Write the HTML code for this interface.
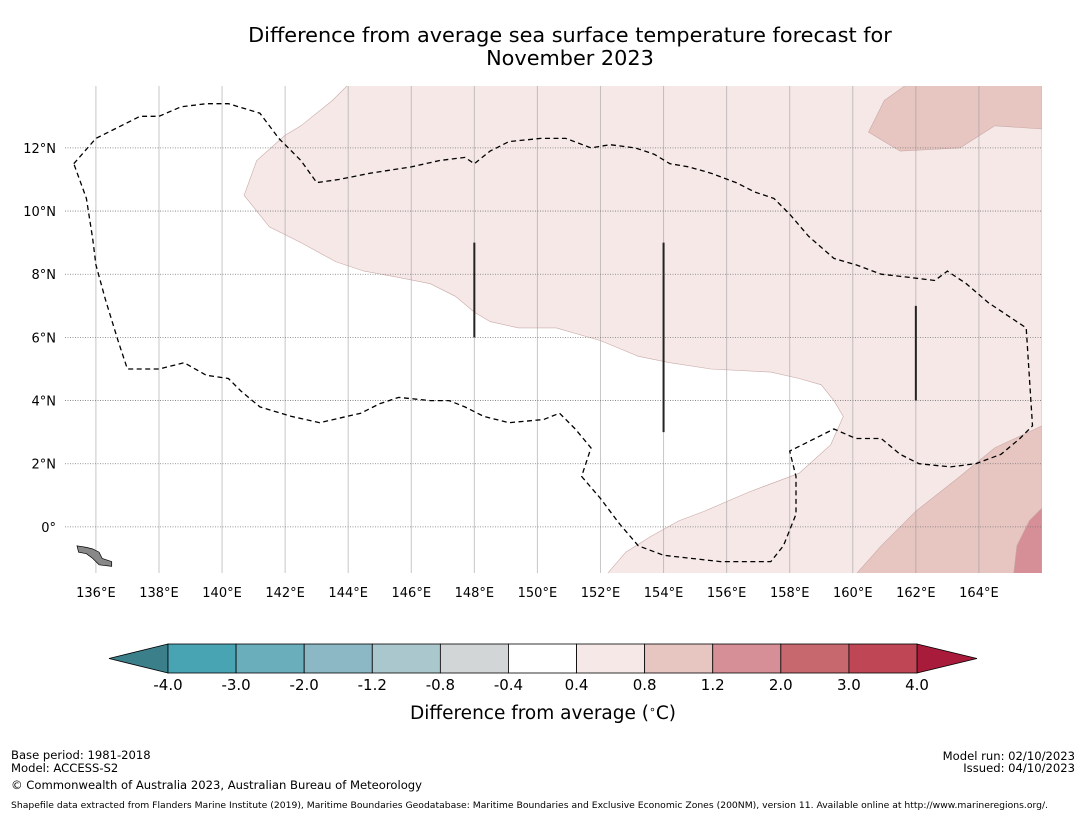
<!DOCTYPE html>
<html><head><meta charset="utf-8"><style>
body{margin:0;background:#fff;}
svg text{font-family:"DejaVu Sans","Liberation Sans",sans-serif;}
</style></head><body>
<svg id="c" width="1085" height="816" viewBox="0 0 1085 816" xmlns="http://www.w3.org/2000/svg">
<text x="570" y="42" font-size="20.8" text-anchor="middle">Difference from average sea surface temperature forecast for</text>
<text x="570" y="65" font-size="20.8" text-anchor="middle">November 2023</text>
<g id="map"></g>
<g id="cbar"></g>
<text x="543" y="719" font-size="18.5" text-anchor="middle">Difference from average (<tspan baseline-shift="super" font-size="11">∘</tspan>C)</text>
<text x="11" y="759" font-size="11.6">Base period: 1981-2018</text>
<text x="11" y="772" font-size="11.6">Model: ACCESS-S2</text>
<text x="11" y="789" font-size="11.6">© Commonwealth of Australia 2023, Australian Bureau of Meteorology</text>
<text x="1075" y="760" font-size="11.6" text-anchor="end">Model run: 02/10/2023</text>
<text x="1075" y="772" font-size="11.6" text-anchor="end">Issued: 04/10/2023</text>
<text x="11" y="808" font-size="8.6" textLength="1037" lengthAdjust="spacingAndGlyphs">Shapefile data extracted from Flanders Marine Institute (2019), Maritime Boundaries Geodatabase: Maritime Boundaries and Exclusive Economic Zones (200NM), version 11. Available online at http://www.marineregions.org/.</text>
</svg>
<script>
const lonTicks=[136,138,140,142,144,146,148,150,152,154,156,158,160,162,164];
const latTicks=[0,2,4,6,8,10,12];
const cbBounds=[-4.0,-3.0,-2.0,-1.2,-0.8,-0.4,0.4,0.8,1.2,2.0,3.0,4.0];
const cbColors=["#48a3b3","#6aaebb","#8bb8c4","#a9c7cc","#d3d6d7","#ffffff","#f5e8e7","#e7c5c1","#d68f96","#c7686f","#bf4655"];
const regionLight=[[144.0,14],[143.5,13.5],[142.5,12.7],[142.0,12.4],[141.1,11.6],[140.7,10.5],[141.5,9.5],[142.5,9.0],[143.6,8.4],[144.5,8.1],[145.6,7.9],[146.6,7.7],[147.4,7.3],[148.0,6.8],[148.5,6.5],[149.4,6.3],[150.6,6.3],[152.0,5.9],[153.2,5.4],[154.2,5.2],[155.5,5.0],[157.4,4.9],[158.3,4.7],[159.0,4.5],[159.4,4.0],[159.7,3.5],[159.3,2.6],[158.3,1.7],[156.7,1.1],[155.3,0.5],[154.5,0.2],[153.6,-0.3],[152.8,-0.8],[152.2,-1.5],[166,-1.5],[166,14]];
const regionTopRight=[[161.7,14],[161.0,13.5],[160.5,12.5],[161.5,11.9],[163.4,12.0],[164.5,12.7],[166,12.6],[166,14]];
const regionLowRight=[[160.1,-1.5],[160.9,-0.6],[162.0,0.5],[163.4,1.6],[164.5,2.5],[166,3.2],[166,-1.5]];
const regionDark=[[166,0.6],[165.6,0.2],[165.2,-0.6],[165.1,-1.5],[166,-1.5]];
const eez=[[135.3,11.5],[136.0,12.3],[136.8,12.7],[137.4,13.0],[138.0,13.0],[138.7,13.3],[139.5,13.4],[140.2,13.4],[141.2,13.1],[141.8,12.3],[142.5,11.6],[143.0,10.9],[143.7,11.0],[144.7,11.2],[146.0,11.4],[146.9,11.6],[147.7,11.7],[148.0,11.5],[148.5,11.9],[149.1,12.2],[150.1,12.3],[150.9,12.3],[151.7,12.0],[152.3,12.1],[153.1,12.0],[153.7,11.8],[154.2,11.5],[154.8,11.4],[155.5,11.2],[156.3,10.9],[156.9,10.6],[157.5,10.4],[158.0,9.9],[158.6,9.2],[159.4,8.5],[160.1,8.3],[160.9,8.0],[161.8,7.9],[162.6,7.8],[163.0,8.1],[163.6,7.7],[164.3,7.1],[165.5,6.3],[165.7,3.2],[165.3,2.8],[164.7,2.3],[163.9,2.0],[163.1,1.9],[162.1,2.0],[161.5,2.3],[160.9,2.8],[160.1,2.8],[159.4,3.1],[158.8,2.8],[158.0,2.4],[158.2,1.6],[158.2,0.4],[157.8,-0.6],[157.4,-1.1],[155.8,-1.1],[154.0,-0.9],[153.2,-0.6],[152.6,0.1],[152.0,0.9],[151.4,1.6],[151.7,2.5],[151.2,3.1],[150.7,3.6],[150.2,3.4],[149.1,3.3],[148.3,3.5],[147.7,3.8],[147.2,4.0],[146.6,4.0],[145.6,4.1],[145.0,3.9],[144.4,3.6],[143.1,3.3],[142.2,3.5],[141.2,3.8],[140.6,4.3],[140.2,4.7],[139.5,4.8],[138.8,5.2],[138.0,5.0],[137.0,5.0],[136.7,5.9],[136.3,7.2],[136.0,8.3],[135.9,9.1],[135.7,10.4],[135.3,11.5]];
const vLines=[[148,9,6],[154,9,3],[162,7,4]];
const island=[[135.4,-0.6],[135.7,-0.65],[135.9,-0.7],[136.1,-0.8],[136.2,-1.0],[136.5,-1.1],[136.5,-1.25],[136.1,-1.2],[135.9,-1.0],[135.7,-0.85],[135.45,-0.8]];
const NS="http://www.w3.org/2000/svg";
const X0=65,X1=1042,Y0=86,Y1=573,LON0=135.02,LON1=166,LAT0=-1.46,LAT1=13.96;
const sx=l=>X0+(l-LON0)/(LON1-LON0)*(X1-X0);
const sy=l=>Y1-(l-LAT0)/(LAT1-LAT0)*(Y1-Y0);
function mk(t,a,p){const e=document.createElementNS(NS,t);for(const k in a)e.setAttribute(k,a[k]);p.appendChild(e);return e;}
const map=document.getElementById('map');
const clip=mk('clipPath',{id:'mc'},map);mk('rect',{x:X0,y:Y0,width:X1-X0,height:Y1-Y0},clip);
const g=mk('g',{'clip-path':'url(#mc)'},map);
const pts=a=>a.map(p=>sx(p[0]).toFixed(1)+','+sy(p[1]).toFixed(1)).join(' ');
[[regionLight,'#f5e8e7','region-0.4-0.8'],[regionTopRight,'#e7c5c1','region-0.8-1.2-north'],[regionLowRight,'#e7c5c1','region-0.8-1.2-south'],[regionDark,'#d68f96','region-1.2-2.0']].forEach(r=>{
 const e=mk('polygon',{points:pts(r[0]),fill:r[1],stroke:'#c9aaa8','stroke-width':0.6},g);
 
 
});
lonTicks.forEach(l=>{const e=mk('line',{x1:sx(l),x2:sx(l),y1:Y0,y2:Y1,stroke:'#999','stroke-opacity':0.55,'stroke-width':1},g);
 
 
 const t=mk('text',{x:sx(l),y:597,'font-size':13,'text-anchor':'middle'},map);t.textContent=l+'°E';
 
 });
latTicks.forEach(l=>{const e=mk('line',{x1:X0,x2:X1,y1:sy(l),y2:sy(l),stroke:'#777','stroke-width':0.8,'stroke-dasharray':'1,1.5'},g);
 
 
 const t=mk('text',{x:56,y:sy(l)+5,'font-size':13,'text-anchor':'end'},map);t.textContent=l===0?'0°':l+'°N';
 
 });
const isl=mk('polygon',{points:pts(island),fill:'#888',stroke:'#000','stroke-width':0.7},g);


const ez=mk('polyline',{points:pts(eez),fill:'none',stroke:'#000','stroke-width':1.3,'stroke-dasharray':'5,3.5'},g);


vLines.forEach(v=>{const e=mk('line',{x1:sx(v[0]),x2:sx(v[0]),y1:sy(v[1]),y2:sy(v[2]),stroke:'#222','stroke-width':2},g);
 
 });
const cb=document.getElementById('cbar');
const CB0=168,CB1=917,CBY=644,CBH=29,n=cbColors.length,w=(CB1-CB0)/n;
const lt=mk('polygon',{points:`${CB0},${CBY} ${CB0},${CBY+CBH} 109,${CBY+CBH/2}`,fill:'#3a7f89',stroke:'#000','stroke-width':0.8},cb);


const rt=mk('polygon',{points:`${CB1},${CBY} ${CB1},${CBY+CBH} 977,${CBY+CBH/2}`,fill:'#a81b3a',stroke:'#000','stroke-width':0.8},cb);


cbColors.forEach((c,i)=>{const e=mk('rect',{x:CB0+i*w,y:CBY,width:w,height:CBH,fill:c,stroke:'#000','stroke-width':0.8},cb);
 
 });
cbBounds.forEach((b,i)=>{const t=mk('text',{x:CB0+i*w,y:690,'font-size':15,'text-anchor':'middle'},cb);t.textContent=b.toFixed(1);
 
 });
</script>
</body></html>
